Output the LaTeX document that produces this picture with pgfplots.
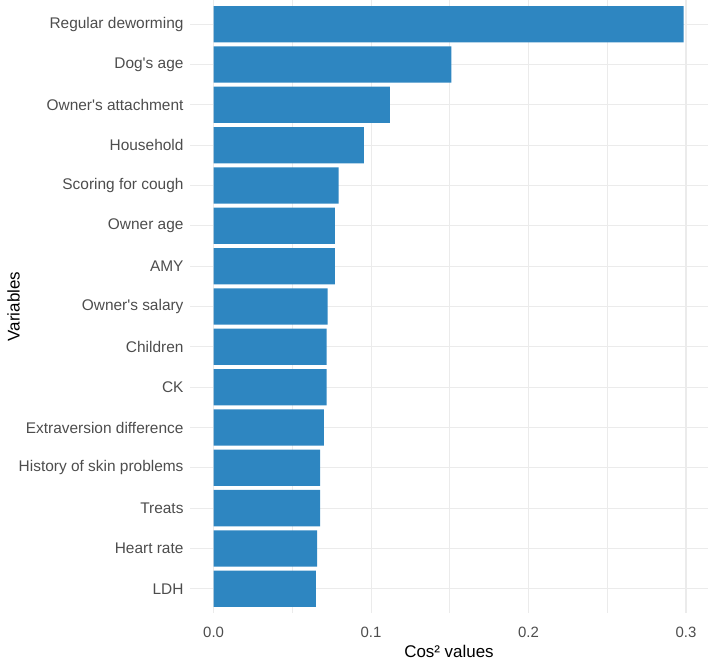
\documentclass[border=0pt]{standalone}
\usepackage{pgfplots}
\pgfplotsset{compat=1.18}
\usepackage{fontspec}
\setmainfont{Liberation Sans}
\definecolor{barblue}{HTML}{2E86C1}
\definecolor{gridc}{HTML}{EBEBEB}
\definecolor{labc}{HTML}{4D4D4D}
\begin{document}
\begin{tikzpicture}
\begin{axis}[
  name=ax,
  at={(0,0)}, anchor=south west,
  scale only axis,
  width=518bp, height=613bp,
  xbar,
  bar width=0.9,
  xmin=-0.015, xmax=0.314,
  ymin=0.4, ymax=15.6,
  axis line style={draw=none},
  major tick length=0pt, minor tick length=0pt,
  xtick={0,0.1,0.2,0.3},
  minor xtick={0.05,0.15,0.25},
  xticklabel style={/pgf/number format/fixed,/pgf/number format/fixed zerofill,/pgf/number format/precision=1,/pgf/number format/assume math mode=true,font=\fontsize{15}{18}\selectfont,text=labc,yshift=-11bp},
  ytick={1,...,15},
  yticklabels={LDH,Heart rate,Treats,History of skin problems,Extraversion difference,CK,Children,Owner\textquotesingle s salary,AMY,Owner age,Scoring for cough,Household,Owner\textquotesingle s attachment,Dog\textquotesingle s age,Regular deworming},
  yticklabel style={font=\fontsize{15.5}{18}\selectfont,text=labc,xshift=-3bp},
  xmajorgrids, ymajorgrids, xminorgrids,
  major grid style={draw=gridc,line width=1.1pt},
  minor grid style={draw=gridc,line width=0.6pt},
  xlabel={Cos² values},
  ylabel={Variables},
  xlabel style={font=\fontsize{17}{20}\selectfont,yshift=0bp},
  ylabel style={font=\fontsize{17}{20}\selectfont,yshift=-8bp},
]
\addplot[fill=barblue, draw=none] coordinates {
(0.0650,1) (0.0658,2) (0.0677,3) (0.0677,4) (0.0700,5) (0.0717,6) (0.0717,7) (0.0724,8) (0.0770,9) (0.0770,10) (0.0794,11) (0.0955,12) (0.1120,13) (0.1510,14) (0.2985,15)};
\end{axis}
\pgfresetboundingbox
\path[use as bounding box] ([xshift=-190bp,yshift=-47bp]ax.south west) rectangle ([yshift=0bp]ax.north east);
\end{tikzpicture}
\end{document}
